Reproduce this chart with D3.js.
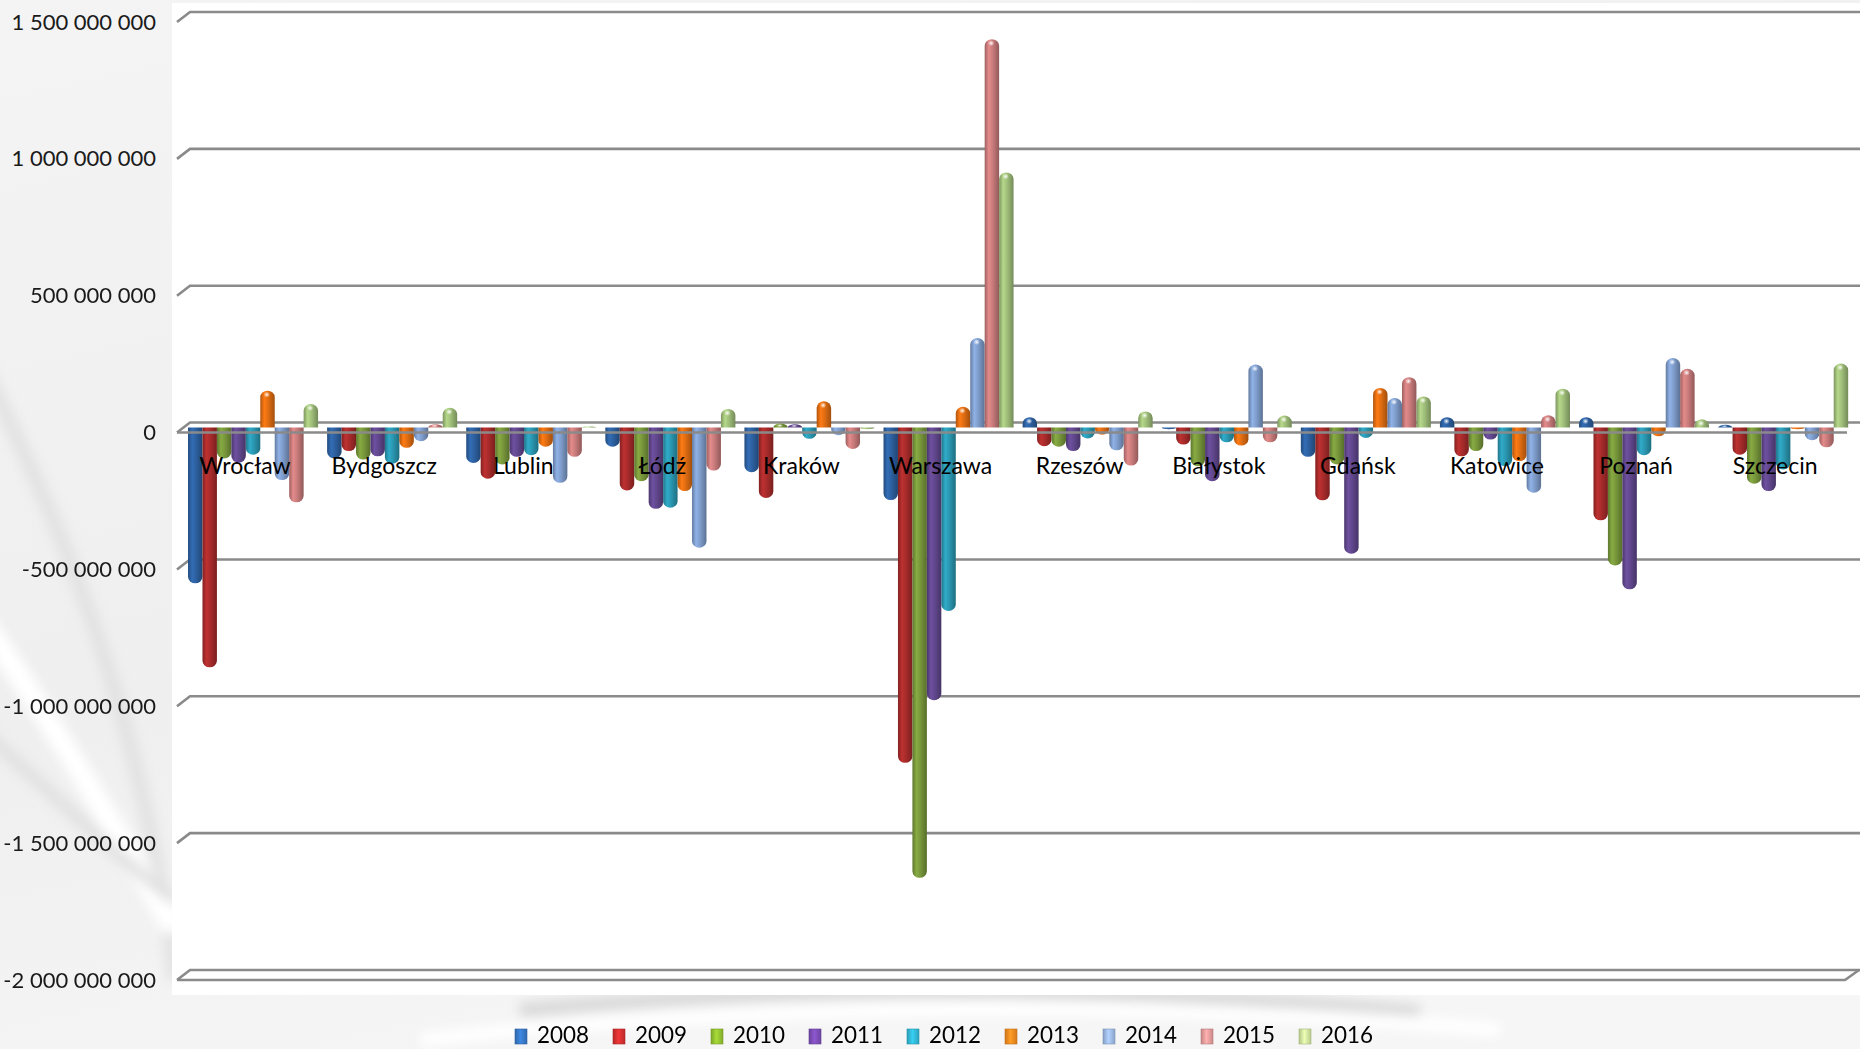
<!DOCTYPE html>
<html>
<head>
<meta charset="utf-8">
<script src="https://cdn.jsdelivr.net/npm/d3@7"></script>
<style>
  html, body { margin: 0; padding: 0; background: #ffffff; }
  svg { display: block; }
</style>
</head>
<body>
<svg id="chart" width="1860" height="1049"></svg>
<script>
// City budget results per year (millions PLN)
const cities = ["Wrocław", "Bydgoszcz", "Lublin", "Łódź", "Kraków", "Warszawa",
                "Rzeszów", "Białystok", "Gdańsk", "Katowice", "Poznań", "Szczecin"];
const years = ["2008", "2009", "2010", "2011", "2012", "2013", "2014", "2015", "2016"];

const v2008 = [-569, -113, -129,  -70, -163,  -265,   38,   -6, -107,   38,   38,   10];
const v2009 = [-876,  -86, -187, -230, -257, -1225,  -68,  -62, -266, -105, -339,  -99];
const v2010 = [-113, -117, -135, -196,   15, -1645,  -70, -141, -135,  -86, -504, -205];
const v2011 = [-128, -105, -107, -297,   12,  -996,  -86, -196, -461,  -44, -591, -232];
const v2012 = [ -99, -132, -101, -293,  -41,  -670,  -40,  -54,  -38, -141, -101, -153];
const v2013 = [ 135,  -74,  -70, -232,   96,    76,  -26,  -66,  145, -123,  -32,   -6];
const v2014 = [-192,  -50, -202, -439,  -28,   327,  -83,  230,  108, -238,  254,  -46];
const v2015 = [-273,   12, -107, -157,  -78,  1419, -139,  -54,  184,   45,  215,  -72];
const v2016 = [  86,   72,    5,   68,   -6,   932,   59,   44,  114,  142,   30,  234];

const seriesValues = [v2008, v2009, v2010, v2011, v2012, v2013, v2014, v2015, v2016];
const tickValues = [1.5e9, 1e9, 5e8, 0, -5e8, -1e9, -1.5e9, -2e9];

// cylinder body colours and brighter legend swatch colours
const barColors    = ["#2d60a0", "#a82b2b", "#78973b", "#61478d", "#2a97b1",
                      "#e06d12", "#7f9dcc", "#c97b7b", "#a0bf7a"];
const legendColors = ["#3b7fd2", "#e03232", "#9ccd34", "#8352c2", "#34c2e2",
                      "#ff9222", "#a6c4f0", "#f2a4a4", "#dcf2a8"];

const UNIT = 1e6;
const W = 1860, H = 1049;
const DEPTH_X = 13, DEPTH_Y = 10;      // oblique offset of the back wall
const BAR_DY = 5;                       // bars sit half way into the depth

const svg = d3.select("#chart");
const defs = svg.append("defs");

// ---------- background ----------
const bg = defs.append("linearGradient").attr("id", "bgGrad")
  .attr("x1", 0).attr("y1", 0).attr("x2", 0.4).attr("y2", 1);
bg.append("stop").attr("offset", "0%").attr("stop-color", "#f4f4f4");
bg.append("stop").attr("offset", "60%").attr("stop-color", "#efefef");
bg.append("stop").attr("offset", "100%").attr("stop-color", "#f6f6f6");
svg.append("rect").attr("width", W).attr("height", H).attr("fill", "url(#bgGrad)");

const soft = defs.append("filter").attr("id", "soft")
  .attr("x", "-20%").attr("y", "-20%").attr("width", "140%").attr("height", "140%");
soft.append("feGaussianBlur").attr("stdDeviation", 6);

const swoosh = svg.append("g").attr("filter", "url(#soft)");
swoosh.append("path").attr("d", "M-40,320 C60,520 140,700 175,980")
  .attr("fill", "none").attr("stroke", "#dcdcdc").attr("stroke-width", 14).attr("opacity", 0.7);
swoosh.append("path").attr("d", "M-60,560 C40,700 110,820 175,930")
  .attr("fill", "none").attr("stroke", "#ffffff").attr("stroke-width", 22);
swoosh.append("path").attr("d", "M-30,720 C60,800 120,860 175,900")
  .attr("fill", "none").attr("stroke", "#e0e0e0").attr("stroke-width", 12);
swoosh.append("path").attr("d", "M520,1010 C800,985 1100,985 1420,1012")
  .attr("fill", "none").attr("stroke", "#d8d8d8").attr("stroke-width", 14);
swoosh.append("path").attr("d", "M420,1040 C800,1000 1150,1000 1500,1030")
  .attr("fill", "none").attr("stroke", "#ffffff").attr("stroke-width", 14);

// white plot area
svg.append("rect").attr("x", 172).attr("y", 3).attr("width", W - 172).attr("height", 992)
  .attr("fill", "#ffffff");

// ---------- scales ----------
const y = d3.scaleLinear().domain([-2e9, 1.5e9]).range([970, 12]);

const x0 = d3.scaleBand().domain(cities).range([183.5, 1852.7])
  .paddingInner(0.065).paddingOuter(0.0325);
const x1 = d3.scaleBand().domain(years).range([0, x0.bandwidth()]).padding(0);

const plotLeft = 190 - DEPTH_X, plotRight = 1860;

// ---------- back wall gridlines ----------
const gridColor = "#8a8a8a";
const grid = svg.append("g");
tickValues.forEach(t => {
  const yb = y(t);
  grid.append("path")
    .attr("d", `M${plotLeft},${yb + DEPTH_Y} L${plotLeft + DEPTH_X},${yb} L${plotRight},${yb}`)
    .attr("fill", "none").attr("stroke", gridColor).attr("stroke-width", 2.6);
});
// floor outline at the axis minimum
const yMin = y(-2e9);
grid.append("path")
  .attr("d", `M${plotLeft},${yMin + DEPTH_Y} L1845,${yMin + DEPTH_Y} L1859,${yMin}`)
  .attr("fill", "none").attr("stroke", gridColor).attr("stroke-width", 2.6);

// ---------- y axis labels ----------
const pl = d3.formatLocale({ decimal: ",", thousands: " ", grouping: [3], currency: ["", ""], minus: "-" });
const fmt = pl.format(",d");
const axis = d3.axisLeft(y).tickValues(tickValues).tickFormat(fmt).tickSize(0).tickPadding(0);
const axisG = svg.append("g").attr("transform", `translate(156,${DEPTH_Y})`).call(axis);
axisG.select(".domain").remove();
axisG.selectAll("text")
  .attr("font-family", "Lato, 'Open Sans', sans-serif")
  .attr("font-size", 22).attr("fill", "#1a1a1a");

// ---------- cylinder gradients ----------
barColors.forEach((c, i) => {
  const base = d3.color(c);
  const g = defs.append("linearGradient").attr("id", "cyl" + i)
    .attr("x1", 0).attr("y1", 0).attr("x2", 1).attr("y2", 0);
  g.append("stop").attr("offset", "0%").attr("stop-color", base.darker(0.7));
  g.append("stop").attr("offset", "28%").attr("stop-color", base.brighter(0.35));
  g.append("stop").attr("offset", "55%").attr("stop-color", base);
  g.append("stop").attr("offset", "100%").attr("stop-color", base.darker(0.9));

  const lg = defs.append("linearGradient").attr("id", "leg" + i)
    .attr("x1", 0).attr("y1", 0).attr("x2", 1).attr("y2", 0);
  const lc = d3.color(legendColors[i]);
  lg.append("stop").attr("offset", "0%").attr("stop-color", lc.darker(0.6));
  lg.append("stop").attr("offset", "45%").attr("stop-color", lc.brighter(0.2));
  lg.append("stop").attr("offset", "100%").attr("stop-color", lc.darker(0.5));
});
const hl = defs.append("radialGradient").attr("id", "shine");
hl.append("stop").attr("offset", "0%").attr("stop-color", "#ffffff").attr("stop-opacity", 0.95);
hl.append("stop").attr("offset", "100%").attr("stop-color", "#ffffff").attr("stop-opacity", 0);

// ---------- bars ----------
const y0 = y(0) + BAR_DY;
const bw = x1.bandwidth();
const barData = [];
seriesValues.forEach((vals, si) => {
  vals.forEach((v, ci) => {
    barData.push({ series: si, city: cities[ci], year: years[si], value: v * UNIT });
  });
});

function cylinderPath(d) {
  const xl = x0(d.city) + x1(d.year);
  const xr = xl + bw;
  const r = bw / 2;
  const yb = y(d.value) + BAR_DY;
  const len = Math.abs(yb - y0);
  const ry = Math.min(6.5, Math.max(len, 1.5));
  if (d.value >= 0) {
    return `M${xl},${y0} L${xl},${yb + ry} A${r},${ry} 0 0 1 ${xr},${yb + ry} L${xr},${y0} Z`;
  }
  return `M${xl},${y0} L${xl},${yb - ry} A${r},${ry} 0 0 0 ${xr},${yb - ry} L${xr},${y0} Z`;
}

const bars = svg.append("g");
bars.selectAll("path.bar").data(barData).join("path")
  .attr("class", "bar")
  .attr("d", cylinderPath)
  .attr("fill", d => `url(#cyl${d.series})`);

// specular highlight on the rounded top of rising cylinders
bars.selectAll("ellipse.shine").data(barData.filter(d => d.value > 0)).join("ellipse")
  .attr("class", "shine")
  .attr("cx", d => x0(d.city) + x1(d.year) + bw * 0.45)
  .attr("cy", d => {
    const yb = y(d.value) + BAR_DY;
    return yb + Math.min(4, (y0 - yb) * 0.5);
  })
  .attr("rx", 3.2)
  .attr("ry", d => Math.min(3, Math.max(1, (y0 - (y(d.value) + BAR_DY)) * 0.4)))
  .attr("fill", "url(#shine)");

// front edge of the floor plane
svg.append("path")
  .attr("d", `M${plotLeft},${y(0) + DEPTH_Y} L1847,${y(0) + DEPTH_Y}`)
  .attr("fill", "none").attr("stroke", gridColor).attr("stroke-width", 2.6);

// ---------- category labels ----------
svg.append("g").selectAll("text").data(cities).join("text")
  .attr("x", d => x0(d) + x0.bandwidth() / 2 - 8)
  .attr("y", 474)
  .attr("text-anchor", "middle")
  .attr("font-family", "Lato, 'Open Sans', sans-serif")
  .attr("font-size", 23)
  .attr("fill", "#000000")
  .text(d => d);

// ---------- legend ----------
const legend = svg.append("g");
const legendStep = 98;
const items = legend.selectAll("g").data(years).join("g")
  .attr("transform", (d, i) => `translate(${515 + i * legendStep},0)`);
items.append("rect")
  .attr("x", 0).attr("y", 1029).attr("width", 12).attr("height", 15)
  .attr("fill", (d, i) => `url(#leg${i})`)
  .attr("stroke", (d, i) => d3.color(legendColors[i]).darker(0.8)).attr("stroke-width", 0.6);
items.append("text")
  .attr("x", 22).attr("y", 1043)
  .attr("font-family", "Lato, 'Open Sans', sans-serif")
  .attr("font-size", 23)
  .attr("textLength", 52).attr("lengthAdjust", "spacingAndGlyphs")
  .attr("fill", "#000000")
  .text(d => d);
</script>
</body>
</html>
